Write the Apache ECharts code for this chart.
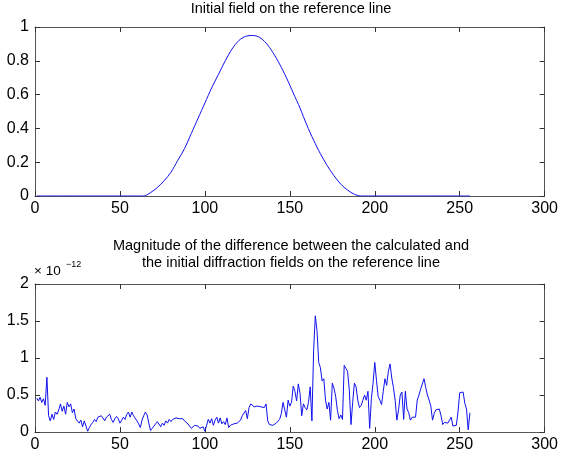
<!DOCTYPE html>
<html>
<head>
<meta charset="utf-8">
<script src="https://cdn.jsdelivr.net/npm/echarts@6/dist/echarts.min.js"></script>
<style>html,body{margin:0;padding:0;background:#fff}#c{width:561px;height:459px}</style>
</head>
<body>
<div id="c"></div>
<script>
// Top panel: initial field
const topX = [1, 64, 68, 72, 76, 80, 84, 88, 92, 96, 100, 104, 108, 112, 116, 120, 124, 128, 132, 136, 140, 144, 148, 152, 156, 160, 164, 168, 172, 176, 180, 184, 188, 192, 256];
const topY = [0, 0, 0.02, 0.05, 0.09, 0.14, 0.21, 0.28, 0.37, 0.46, 0.55, 0.64, 0.72, 0.80, 0.87, 0.92, 0.945, 0.95, 0.94, 0.905, 0.85, 0.78, 0.70, 0.61, 0.52, 0.42, 0.33, 0.25, 0.18, 0.12, 0.07, 0.035, 0.01, 0, 0];

// Bottom panel: magnitude of difference, in units of 1e-12, for x = 1..256
const diffY = [
0.46,0.42,0.47,0.40,0.45,0.36,0.74,0.22,0.15,0.24,
0.17,0.27,0.24,0.30,0.38,0.28,0.35,0.24,0.40,0.34,
0.38,0.26,0.31,0.18,0.20,0.12,0.16,0.07,0.15,0.08,
0.01,0.06,0.10,0.13,0.17,0.14,0.20,0.18,0.22,0.19,
0.15,0.20,0.22,0.24,0.17,0.13,0.18,0.21,0.18,0.12,
0.16,0.20,0.17,0.24,0.27,0.20,0.27,0.22,0.24,0.15,
0.11,0.06,0.16,0.22,0.27,0.23,0.12,0.02,0.05,0.08,
0.11,0.14,0.12,0.07,0.12,0.09,0.15,0.12,0.17,0.14,
0.17,0.16,0.19,0.17,0.18,0.19,0.18,0.15,0.13,0.11,
0.08,0.05,0.06,0.09,0.10,0.08,0.05,0.03,0.07,0.01,
0.09,0.17,0.12,0.18,0.09,0.16,0.20,0.12,0.19,0.11,
0.14,0.10,0.19,0.06,0.09,0.10,0.11,0.10,0.12,0.13,
0.16,0.22,0.20,0.29,0.18,0.33,0.38,0.37,0.34,0.36,
0.35,0.37,0.34,0.36,0.33,0.38,0.15,0.10,0.11,0.09,
0.10,0.12,0.12,0.17,0.25,0.40,0.30,0.20,0.43,0.35,
0.40,0.62,0.55,0.42,0.65,0.52,0.22,0.38,0.33,0.30,
0.40,0.61,0.15,1.10,1.57,1.37,0.94,0.87,0.69,0.72,
0.43,0.31,0.40,0.16,0.66,0.59,0.48,0.29,0.18,0.23,
0.17,0.90,0.86,0.82,0.57,0.10,0.40,0.66,0.61,0.43,
0.33,0.36,0.43,0.50,0.43,0.55,0.05,0.45,0.66,0.94,
0.70,0.48,0.43,0.37,0.55,0.72,0.63,0.82,0.92,0.73,
0.60,0.43,0.16,0.30,0.50,0.54,0.17,0.55,0.31,0.26,
0.16,0.20,0.18,0.20,0.43,0.50,0.58,0.65,0.72,0.60,
0.50,0.43,0.35,0.16,0.25,0.30,0.30,0.31,0.22,0.10,
0.13,0.12,0.12,0.13,0.20,0.08,0.10,0.09,0.27,0.53,
0.55,0.54,0.39,0.31,0.03,0.26
];

const xTicks = [0, 50, 100, 150, 200, 250, 300];
const topYTicks = [0, 0.2, 0.4, 0.6, 0.8, 1];
const botYTicks = [0, 0.5, 1, 1.5, 2];

const topTitle = 'Initial field on the reference line';
const botTitle1 = 'Magnitude of the difference between the calculated and';
const botTitle2 = 'the initial diffraction fields on the reference line';

const FONT = 'Liberation Sans, Arial, Helvetica, sans-serif';
const AX = '#555';

const topData = topX.map((x, i) => [x, topY[i]]);
const botData = diffY.map((v, i) => [i + 1, v]);

function xAx(grid, pos, labels) {
  return {
    type: 'value', gridIndex: grid, position: pos,
    min: xTicks[0], max: xTicks[xTicks.length - 1], interval: xTicks[1] - xTicks[0],
    axisLine: {show: true, onZero: false, lineStyle: {color: AX, width: 1}},
    axisTick: {show: true, inside: true, length: 5, lineStyle: {color: '#333'}},
    axisLabel: {show: labels, color: '#000', fontFamily: FONT, fontSize: 16, margin: 5},
    splitLine: {show: false}
  };
}
function yAx(grid, pos, labels, ticks) {
  return {
    type: 'value', gridIndex: grid, position: pos,
    min: ticks[0], max: ticks[ticks.length - 1], interval: ticks[1] - ticks[0],
    axisLine: {show: true, onZero: false, lineStyle: {color: AX, width: 1}},
    axisTick: {show: true, inside: true, length: 5, lineStyle: {color: '#333'}},
    axisLabel: {show: labels, color: '#000', fontFamily: FONT, fontSize: 16, margin: 6},
    splitLine: {show: false}
  };
}

const chart = echarts.init(document.getElementById('c'), null, {renderer: 'canvas'});
chart.setOption({
  animation: false,
  backgroundColor: '#fff',
  grid: [
    {left: 35, right: 13, top: 27, height: 169},
    {left: 35, right: 13, top: 284, height: 148}
  ],
  xAxis: [xAx(0, 'bottom', true), xAx(0, 'top', false), xAx(1, 'bottom', true), xAx(1, 'top', false)],
  yAxis: [yAx(0, 'left', true, topYTicks), yAx(0, 'right', false, topYTicks), yAx(1, 'left', true, botYTicks), yAx(1, 'right', false, botYTicks)],
  series: [
    {type: 'line', xAxisIndex: 0, yAxisIndex: 0, data: topData, showSymbol: false, smooth: 0.3,
     lineStyle: {color: '#1010ee', width: 1}, itemStyle: {color: '#1010ee'}},
    {type: 'line', xAxisIndex: 2, yAxisIndex: 2, data: botData, showSymbol: false,
     lineStyle: {color: '#1010ee', width: 1}, itemStyle: {color: '#1010ee'}}
  ],
  graphic: [
    {type: 'text', x: 291, y: 1, style: {text: topTitle, fontFamily: FONT, fontSize: 14.5, fill: '#000', align: 'center'}},
    {type: 'text', x: 291, y: 238, style: {text: botTitle1, fontFamily: FONT, fontSize: 14.5, fill: '#000', align: 'center'}},
    {type: 'text', x: 291, y: 255, style: {text: botTitle2, fontFamily: FONT, fontSize: 14.5, fill: '#000', align: 'center'}},
    {type: 'text', x: 34, y: 264, style: {text: '× 10', fontFamily: FONT, fontSize: 13.5, fill: '#000'}},
    {type: 'text', x: 66, y: 260, style: {text: '−12', fontFamily: FONT, fontSize: 9, fill: '#000'}}
  ]
});
</script>
</body>
</html>
